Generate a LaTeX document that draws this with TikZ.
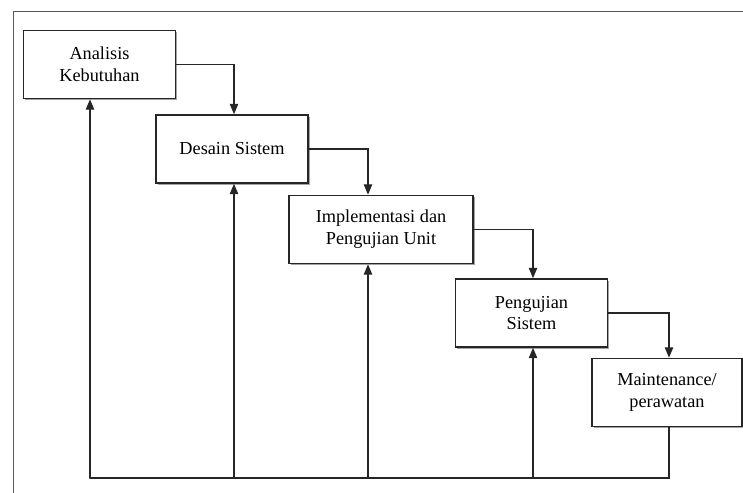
\documentclass[tikz,border=0pt]{standalone}
\usepackage{fontspec}
\setmainfont{Liberation Serif}
\usetikzlibrary{arrows.meta,shadows}

\begin{document}
\begin{tikzpicture}[x=0.025cm,y=-0.025cm,>={Triangle[length=2.6mm,width=2.1mm]},
  font=\fontsize{13}{15.5}\selectfont,line cap=round,
  box/.style={draw=black!85,line width=1.1pt,fill=white,align=center,inner sep=0pt,
    minimum width=3.8cm,minimum height=1.7cm,
    drop shadow={shadow xshift=1.4pt,shadow yshift=-1.4pt,fill=black!45,opacity=0.8}},
  link/.style={draw=black!85,line width=0.95pt}]
\useasboundingbox (0,0) rectangle (743,493);
\draw[black!65,line width=0.7pt] (13,493) -- (13,11) -- (743,11);
% tahapan
\node[box] (analisis) at (99.5,64.5) {Analisis\\Kebutuhan};
\node[box] (desain) at (232,149) {Desain Sistem};
\node[box,minimum width=4.6cm] (impl) at (381,229.5) {Implementasi dan\\Pengujian Unit};
\node[box] (uji) at (531.5,313) {Pengujian\\Sistem};
\node[box,minimum width=3.75cm] (maint) at (667,392.5) {Maintenance/\\perawatan};
% garis balik
\coordinate (b1) at (90,478);
\coordinate (b2) at (234,478);
\coordinate (b3) at (368,478);
\coordinate (b4) at (533,478);
\coordinate (b5) at (669,478);
% alur maju
\draw[link,->] (analisis.east) -| (b2 |- desain.north);
\draw[link,->] (desain.east) -| (b3 |- impl.north);
\draw[link,->] (impl.east) -| (b4 |- uji.north);
\draw[link,->] (uji.east) -| (b5 |- maint.north);
% alur balik
\draw[link] (b5 |- maint.south) -- (b5) -- (b1);
\draw[link,->] (b1) -- (b1 |- analisis.south);
\draw[link,->] (b2) -- (b2 |- desain.south);
\draw[link,->] (b3) -- (b3 |- impl.south);
\draw[link,->] (b4) -- (b4 |- uji.south);
\end{tikzpicture}
\end{document}
